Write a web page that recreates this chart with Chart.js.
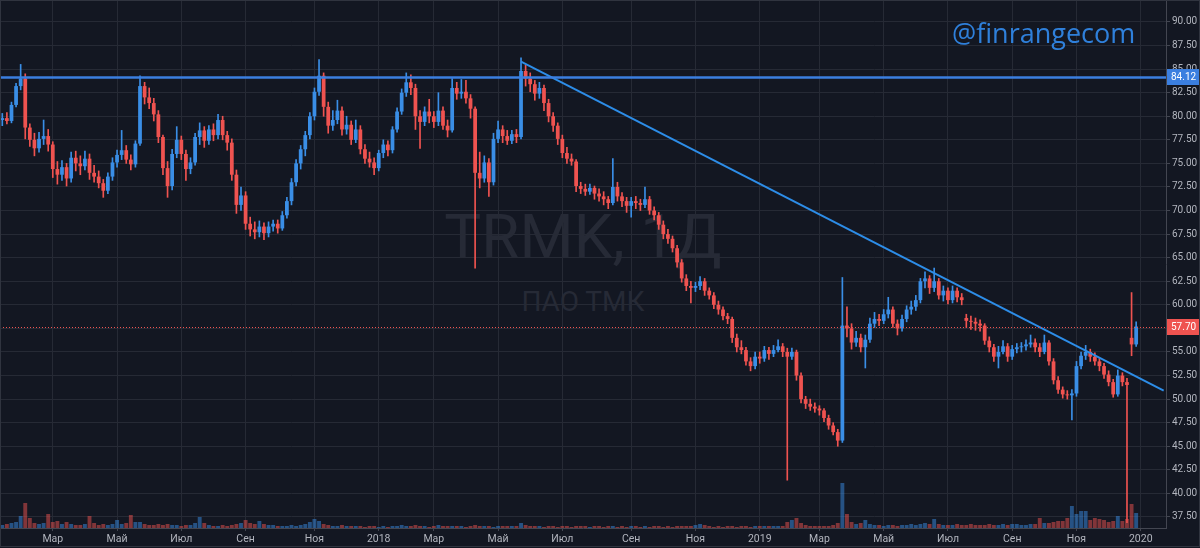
<!DOCTYPE html>
<html>
<head>
<meta charset="utf-8">
<script src="https://cdn.jsdelivr.net/npm/chart.js@4.4.1/dist/chart.umd.min.js"></script>
<style>
html,body{margin:0;padding:0;background:#131722;width:1200px;height:548px;overflow:hidden}
#wrap{position:relative;width:1200px;height:548px}
.wm{position:absolute;left:0;width:1166px;text-align:center;font-family:Roboto,sans-serif;color:#262a36;line-height:1;white-space:nowrap;z-index:0}
#wm1{top:206px;font-size:62px}
#wm2{top:288px;font-size:28px}
#brand{position:absolute;left:952px;top:19px;font-family:"Open Sans",sans-serif;font-size:27px;line-height:1;color:#2f80db;z-index:2;white-space:nowrap}
canvas{position:absolute;left:0;top:0;z-index:1}
</style>
</head>
<body>
<div id="wrap">
<div class="wm" id="wm1">TRMK, 1Д</div>
<div class="wm" id="wm2">ПАО ТМК</div>
<canvas id="c" width="1200" height="548"></canvas>
<div id="brand">@finrangecom</div>
</div>
<script>
// ---- data (each candle = ~3 trading days, Jan 2017 – Dec 2019) ----
const N_CATEGORIES = 254;
const open = [
79.6,79.8,79.5,81.2,83.2,84.0,78.8,77.5,76.6,77.6,
77.9,77.0,74.4,73.8,74.6,73.4,75.6,75.0,74.7,75.5,
74.0,73.6,72.9,72.1,73.6,75.1,75.9,76.4,75.4,74.9,
77.1,83.2,82.0,81.4,80.2,77.8,74.5,72.6,76.0,77.5,
76.0,74.4,75.1,77.8,78.5,77.4,78.6,78.0,79.6,78.0,
77.2,73.8,70.6,71.6,68.6,68.0,67.7,68.3,67.6,68.3,
68.6,68.1,69.5,71.0,73.0,75.0,76.5,78.0,80.0,82.6,
84.3,81.0,79.0,79.6,80.6,78.6,79.1,77.5,78.6,76.5,
75.5,75.1,74.5,76.1,77.0,76.4,78.6,80.5,82.5,83.6,
83.0,80.0,79.4,80.5,80.0,79.4,80.6,79.0,78.5,83.0,
82.4,82.6,81.9,80.8,74.0,73.4,75.1,73.0,77.6,78.6,
77.9,77.4,78.1,77.8,84.8,84.0,83.4,82.4,83.0,81.4,
80.0,79.0,77.6,76.1,75.5,75.2,72.6,72.3,72.0,72.4,
71.8,71.5,71.2,70.8,72.5,71.5,71.0,70.5,71.0,70.8,
70.6,71.2,70.0,69.5,68.5,67.5,67.0,66.0,64.5,62.8,
62.0,61.8,62.0,62.5,61.5,61.0,60.0,59.5,58.8,58.5,
56.5,55.5,55.2,54.0,53.5,54.5,54.3,55.2,54.8,55.2,
55.6,55.0,54.5,55.0,52.5,50.0,49.5,49.2,49.0,48.8,
48.0,47.2,46.5,45.6,57.8,57.5,56.0,56.5,55.5,56.3,
58.0,58.5,58.3,59.0,59.5,58.0,57.5,58.5,59.5,59.8,
60.5,62.5,62.8,61.8,62.5,61.0,61.5,60.5,61.5,60.8,
58.6,58.3,58.2,58.0,57.8,56.2,55.5,54.5,55.0,55.6,
54.5,55.3,55.5,55.6,55.8,56.0,55.5,55.0,56.0,54.0,
52.0,51.0,50.5,50.4,50.6,53.5,54.6,55.0,54.5,54.0,
53.5,52.6,51.8,50.5,52.5,51.8,56.5,55.8];
const high = [
80.3,80.4,81.5,83.5,85.5,84.5,79.2,78.2,78.3,79.6,
78.6,77.3,75.2,75.3,75.0,76.2,76.3,75.8,76.3,76.0,
74.8,74.2,73.3,74.0,75.6,76.4,78.5,76.9,75.9,77.4,
84.3,83.6,83.0,81.9,80.6,78.0,75.2,76.5,78.9,77.9,
76.4,75.6,78.2,79.3,78.9,79.0,79.2,80.2,80.0,78.4,
77.6,74.3,72.5,72.0,69.3,68.8,68.9,68.7,68.8,69.0,
69.0,69.9,71.4,73.4,75.4,76.9,78.4,80.4,83.0,86.0,
84.6,81.5,80.6,81.7,81.0,80.0,79.5,79.6,79.0,77.0,
76.2,75.6,76.4,77.5,77.4,78.9,80.9,82.9,84.6,84.4,
83.4,80.6,81.0,81.8,80.5,82.5,81.0,79.6,84.0,83.6,
83.9,83.8,82.3,81.0,76.2,75.8,75.5,78.2,79.5,79.0,
78.5,78.5,78.6,86.2,85.4,84.6,83.8,83.6,83.3,81.8,
80.4,79.3,78.0,76.7,76.0,75.4,73.0,72.8,72.8,72.6,
72.3,72.0,71.5,75.5,73.0,71.9,71.4,71.4,71.5,71.2,
72.5,71.5,70.4,69.8,68.9,68.0,67.3,66.3,64.8,63.2,
62.5,62.4,63.0,62.8,61.8,61.3,60.4,59.8,59.1,58.7,
56.9,56.2,55.5,54.4,55.0,55.0,55.6,55.5,55.7,56.3,
55.9,55.4,55.4,55.2,52.8,50.3,50.0,49.6,49.3,49.0,
48.3,47.5,46.8,62.9,59.8,58.0,57.2,56.9,56.8,58.6,
59.2,59.0,59.5,60.8,59.8,58.4,58.9,59.9,60.4,61.0,
62.8,63.5,63.1,63.9,62.8,62.0,61.8,62.0,61.8,61.2,
59.0,58.8,58.6,58.4,58.0,56.6,55.8,55.6,56.2,55.9,
55.7,55.9,56.0,56.3,56.8,56.4,55.9,56.8,56.2,54.3,
52.4,51.3,50.9,51.0,54.0,55.0,55.7,55.3,54.9,54.3,
53.8,53.0,52.1,53.1,52.8,52.2,61.3,58.2];
const low = [
79.0,79.2,79.3,81.0,82.8,77.6,76.8,75.8,76.2,77.0,
76.3,73.5,72.8,73.2,72.6,73.0,74.2,73.8,74.3,73.3,
73.0,72.4,71.4,71.8,73.2,74.6,75.4,75.0,74.3,74.6,
76.9,81.3,80.8,79.5,77.2,73.8,71.4,72.2,75.6,75.4,
73.2,73.9,74.8,77.0,76.7,77.0,77.4,77.6,77.5,76.4,
73.2,69.7,70.0,68.0,67.3,67.0,67.2,66.9,67.2,67.8,
67.6,67.9,69.2,70.6,72.6,74.4,75.8,77.6,79.6,82.2,
80.0,78.2,78.5,79.2,78.0,78.1,77.0,77.2,76.0,75.0,
74.6,73.8,74.2,75.6,75.8,76.1,78.3,80.2,82.1,82.3,
78.6,76.6,79.0,79.3,78.8,79.0,78.6,77.8,78.3,81.8,
81.9,81.4,79.8,63.9,72.4,73.0,71.5,72.7,77.2,77.2,
77.0,77.1,77.2,77.6,83.2,82.6,81.7,81.9,80.6,79.4,
78.4,77.0,75.6,75.0,74.8,72.0,71.8,71.6,71.7,71.2,
71.0,70.6,70.2,70.6,71.0,70.4,69.8,69.3,70.2,70.0,
70.3,69.6,69.0,68.0,67.0,66.5,65.6,64.0,62.4,61.5,
60.2,61.4,61.6,61.0,60.6,59.6,59.0,58.4,58.0,56.0,
55.0,54.8,53.6,53.0,53.2,53.8,54.0,54.2,54.5,55.0,
54.5,41.4,54.2,52.0,49.6,49.0,48.8,48.6,48.3,47.6,
46.8,46.2,45.0,45.4,56.6,55.3,55.6,55.0,53.3,56.0,
57.6,57.8,58.0,58.6,57.6,56.8,57.2,58.2,59.0,59.4,
60.2,61.8,61.2,61.4,60.6,60.4,60.1,60.2,60.3,60.0,
57.6,57.4,57.3,57.2,55.8,55.0,54.0,53.3,54.8,54.0,
54.2,54.9,55.0,55.2,55.5,55.0,54.5,54.8,53.6,51.6,
50.6,50.1,50.0,47.8,50.3,53.2,54.2,54.0,53.6,53.0,
52.2,51.4,50.2,50.3,51.4,36.9,54.6,55.6];
const close = [
79.8,79.5,81.2,83.2,84.0,78.8,77.5,76.6,77.6,77.9,
77.0,74.4,73.8,74.6,73.4,75.6,75.0,74.7,75.5,74.0,
73.6,72.9,72.1,73.6,75.1,75.9,76.4,75.4,74.9,77.1,
83.2,82.0,81.4,80.2,77.8,74.5,72.6,76.0,77.5,76.0,
74.4,75.1,77.8,78.5,77.4,78.6,78.0,79.6,78.0,77.2,
73.8,70.6,71.6,68.6,68.0,67.7,68.3,67.6,68.3,68.6,
68.1,69.5,71.0,73.0,75.0,76.5,78.0,80.0,82.6,84.3,
81.0,79.0,79.6,80.6,78.6,79.1,77.5,78.6,76.5,75.5,
75.1,74.5,76.1,77.0,76.4,78.6,80.5,82.5,83.6,83.0,
80.0,79.4,80.5,80.0,79.4,80.6,79.0,78.5,83.0,82.4,
82.6,81.9,80.8,74.0,73.4,75.1,73.0,77.6,78.6,77.9,
77.4,78.1,77.8,84.8,84.0,83.4,82.4,83.0,81.4,80.0,
79.0,77.6,76.1,75.5,75.2,72.6,72.3,72.0,72.4,71.8,
71.5,71.2,70.8,72.5,71.5,71.0,70.5,71.0,70.8,70.6,
71.2,70.0,69.5,68.5,67.5,67.0,66.0,64.5,62.8,62.0,
61.8,62.0,62.5,61.5,61.0,60.0,59.5,58.8,58.5,56.5,
55.5,55.2,54.0,53.5,54.5,54.3,55.2,54.8,55.2,55.6,
55.0,54.5,55.0,52.5,50.0,49.5,49.2,49.0,48.8,48.0,
47.2,46.5,45.6,57.8,57.5,56.0,56.5,55.5,56.3,58.0,
58.5,58.3,59.0,59.5,58.0,57.5,58.5,59.5,59.8,60.5,
62.5,62.8,61.8,62.5,61.0,61.5,60.5,61.5,60.8,60.5,
58.3,58.2,58.0,57.8,56.2,55.5,54.5,55.0,55.6,54.5,
55.3,55.5,55.6,55.8,56.0,55.5,55.0,56.0,54.0,52.0,
51.0,50.5,50.4,50.6,53.5,54.6,55.0,54.5,54.0,53.5,
52.6,51.8,50.5,52.5,51.8,51.5,55.8,57.7];
const volume = [
3,4,5,6,12,25,10,5,4,5,
14,6,7,4,6,4,3,3,4,12,
5,3,4,3,4,8,4,5,13,6,
6,4,3,3,4,3,4,3,3,2,
3,3,5,11,5,3,2,2,3,2,
3,4,5,8,5,4,7,4,3,3,
2,2,2,3,2,3,4,6,9,7,
4,3,2,2,3,2,2,2,2,1,
2,2,1,2,1,2,2,3,2,2,
3,2,2,1,2,3,2,2,2,2,
2,1,2,3,2,2,2,1,2,2,
2,2,2,5,3,2,2,2,1,2,
2,1,2,2,1,2,2,2,1,2,
2,1,2,2,1,2,1,2,2,1,
2,1,2,2,1,2,1,2,2,2,
2,3,4,3,2,1,2,1,2,2,
1,2,2,1,2,2,2,2,2,2,
2,6,8,10,5,3,2,2,2,2,
2,3,5,45,14,6,4,5,8,4,
3,3,2,3,3,2,3,3,4,3,
4,5,4,9,4,3,3,3,4,3,
3,4,3,3,3,4,3,3,4,3,
4,4,3,3,4,4,10,5,5,6,
7,7,10,22,14,17,17,8,10,9,
8,6,7,12,7,9,24,15];
const monthTickIdx = [11,25,39,53,68,82,94,108,122,137,151,165,178,192,206,220,234,248];
const monthTickLabels = ['Мар','Май','Июл','Сен','Ноя','2018','Мар','Май','Июл','Сен','Ноя','2019','Мар','Май','Июл','Сен','Ноя','2020'];
const priceTicks = [37.5,40,42.5,45,47.5,50,52.5,55,57.5,60,62.5,65,67.5,70,72.5,75,77.5,80,82.5,85,87.5,90];
const levelPrice = 84.12;
const lastPrice = 57.70;
const trendPoints = [{idx:113, value:85.8},{idx:253, value:50.9}];

// ---- styling ----
const UP = '#3a8ee6', DOWN = '#ef5350', LEVEL = '#3b7fe0', TREND = '#2d8de8';
const GRID = '#262a35', AXIS = '#434651', TEXT = '#b2b5be';

const labels = Array.from({length: N_CATEGORIES}, (_, i) => String(i));
const isUp = close.map((c, i) => c >= open[i]);
const candleColor = isUp.map(u => u ? UP : DOWN);
const volColor = isUp.map(u => u ? 'rgba(58,142,230,0.5)' : 'rgba(239,83,80,0.5)');
const trend = new Array(N_CATEGORIES).fill(null);
trendPoints.forEach(p => { trend[p.idx] = p.value; });
const tickLabelByIdx = {};
monthTickIdx.forEach((v, k) => { tickLabelByIdx[v] = monthTickLabels[k]; });

Chart.defaults.font.family = 'Roboto, sans-serif';

const overlay = {
  id: 'overlay',
  afterDatasetsDraw(chart) {
    const {ctx, chartArea: a, scales: {y}} = chart;
    ctx.save();
    const yl = Math.round(y.getPixelForValue(lastPrice)) + 0.5;
    ctx.strokeStyle = DOWN; ctx.lineWidth = 1; ctx.setLineDash([1, 2]);
    ctx.beginPath(); ctx.moveTo(a.left, yl); ctx.lineTo(a.right, yl); ctx.stroke();
    ctx.setLineDash([]);
    const yh = y.getPixelForValue(levelPrice);
    ctx.strokeStyle = LEVEL; ctx.lineWidth = 2.5;
    ctx.beginPath(); ctx.moveTo(a.left, yh); ctx.lineTo(a.right, yh); ctx.stroke();
    ctx.restore();
  },
  afterDraw(chart) {
    const {ctx, chartArea: a, scales: {y}} = chart;
    ctx.save();
    ctx.font = '10px Roboto, sans-serif';
    ctx.textBaseline = 'middle'; ctx.textAlign = 'left';
    [[levelPrice, LEVEL], [lastPrice, DOWN]].forEach(([v, c]) => {
      const py = Math.round(y.getPixelForValue(v));
      ctx.fillStyle = c; ctx.fillRect(a.right + 1, py - 8, 33, 16);
      ctx.fillStyle = '#ffffff'; ctx.fillText(v.toFixed(2), a.right + 5, py + 0.5);
    });
    ctx.strokeStyle = '#30343f'; ctx.lineWidth = 1;
    ctx.strokeRect(0.5, 0.5, 1199, 546);
    ctx.restore();
  }
};

new Chart(document.getElementById('c'), {
  data: {
    labels,
    datasets: [
      {type: 'line', data: trend, yAxisID: 'y', borderColor: TREND, borderWidth: 2, pointRadius: 0, spanGaps: true, order: 0},
      {type: 'bar', data: open.map((o, i) => [o, close[i]]), yAxisID: 'y', backgroundColor: candleColor, grouped: false, barPercentage: 0.82, categoryPercentage: 1, order: 1},
      {type: 'bar', data: low.map((l, i) => [l, high[i]]), yAxisID: 'y', backgroundColor: candleColor, grouped: false, barThickness: 1, order: 2},
      {type: 'bar', data: volume, yAxisID: 'yv', backgroundColor: volColor, grouped: false, barPercentage: 0.85, categoryPercentage: 1, order: 3}
    ]
  },
  options: {
    responsive: false,
    devicePixelRatio: 1,
    animation: false,
    events: [],
    layout: {padding: 0},
    plugins: {legend: {display: false}, tooltip: {enabled: false}},
    scales: {
      x: {
        type: 'category', offset: true,
        grid: {color: GRID, offset: false, drawTicks: true, tickLength: 3, tickColor: AXIS},
        border: {color: AXIS},
        ticks: {autoSkip: false, maxRotation: 0, color: TEXT, font: {size: 10.5}, padding: 2,
          callback: (v) => tickLabelByIdx[v] || ''},
        afterBuildTicks: (s) => { s.ticks = monthTickIdx.map(v => ({value: v})); },
        afterFit: (s) => { s.height = 20; s.paddingLeft = 0; s.paddingRight = 0; }
      },
      y: {
        position: 'right', min: 36.33, max: 92.33,
        grid: {color: GRID, tickLength: 4, tickColor: AXIS},
        border: {color: AXIS},
        ticks: {color: TEXT, font: {size: 10}, padding: 2, callback: (v) => Number(v).toFixed(2)},
        afterBuildTicks: (s) => { s.ticks = priceTicks.map(v => ({value: v})); },
        afterFit: (s) => { s.width = 34; s.paddingTop = 0; s.paddingBottom = 0; }
      },
      yv: {display: false, min: 0, max: 528}
    }
  },
  plugins: [overlay]
});
</script>
</body>
</html>
